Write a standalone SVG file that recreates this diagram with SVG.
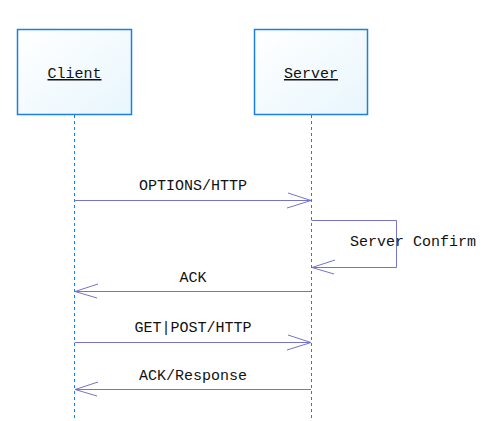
<svg xmlns="http://www.w3.org/2000/svg" width="496" height="421" viewBox="0 0 496 421">
<defs>
<linearGradient id="g" x1="0" y1="0" x2="1" y2="1">
<stop offset="0" stop-color="#ffffff"/>
<stop offset="1" stop-color="#e8f6fd"/>
</linearGradient>
<style>
.box{fill:url(#g);stroke:#1a7fe6;stroke-width:1.5}
.life{stroke:#1a7fe6;stroke-width:1;stroke-dasharray:3,3;fill:none}
.msg{stroke:#7474c8;stroke-width:1;fill:none}
.t{font-family:"Liberation Mono",monospace;font-size:15px;fill:#111}
.n{font-family:"Liberation Mono",monospace;font-size:15px;fill:#111;text-decoration:underline}
</style>
</defs>
<rect width="496" height="421" fill="#ffffff"/>
<g id="client">
<rect class="box" x="17.5" y="29.5" width="114" height="85"/>
<text class="n" x="74.5" y="78" text-anchor="middle">Client</text>
</g>
<g id="server">
<rect class="box" x="254.5" y="29.5" width="113" height="85"/>
<text class="n" x="311" y="78" text-anchor="middle">Server</text>
</g>
<g id="lifelines">
<line class="life" x1="74.5" y1="115" x2="74.5" y2="421"/>
<line class="life" x1="311.5" y1="115" x2="311.5" y2="421"/>
</g>
<g id="connectors">
<path class="msg" d="M74.5 200.5H311M288 193L311 200.5L287 208"/>
<text class="t" x="193" y="190" text-anchor="middle">OPTIONS/HTTP</text>
<path class="msg" d="M311.5 220.5H396.5V267.5H312M335 260L312 267.5L334 274"/>
<text class="t" x="350" y="246">Server Confirm</text>
<path class="msg" d="M311 291.5H75M98 284L75 291.5L97 298"/>
<text class="t" x="193" y="282" text-anchor="middle">ACK</text>
<path class="msg" d="M74.5 342.5H311M288 335L311 342.5L287 350"/>
<text class="t" x="193" y="332" text-anchor="middle">GET|POST/HTTP</text>
<path class="msg" d="M311 389.5H75M98 382L75 389.5L97 396"/>
<text class="t" x="193" y="380" text-anchor="middle">ACK/Response</text>
</g>
</svg>
